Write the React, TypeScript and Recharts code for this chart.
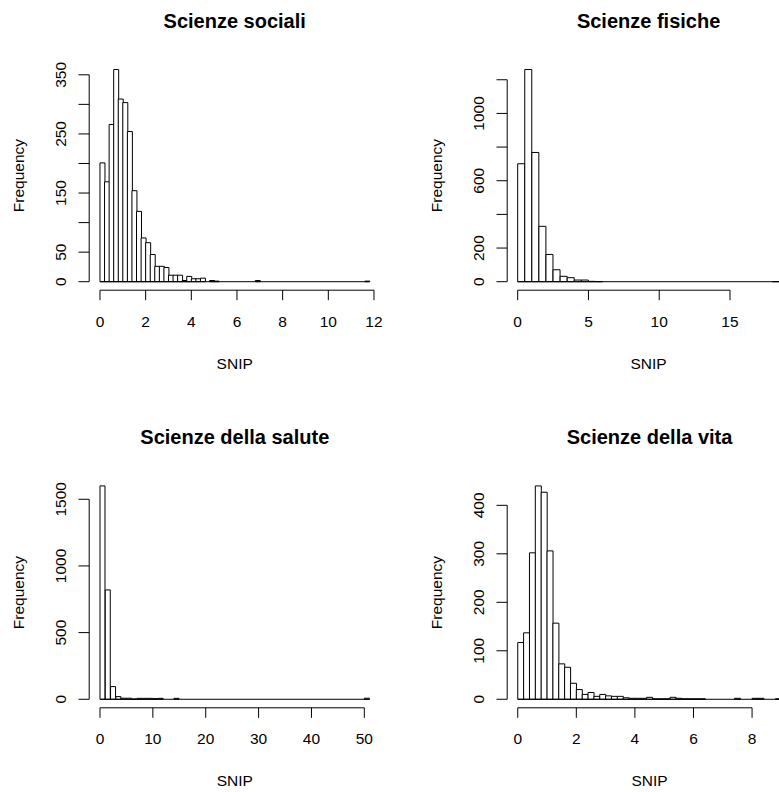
import React from 'react'
import { BarChart, Bar, XAxis, YAxis, ReferenceLine, Label } from 'recharts'

// counts per bin
const socialiCounts = [
  201, 169, 266, 359, 309, 303, 254, 154, 119, 74, 66, 46, 26, 26, 24, 11, 11, 11, 2, 9,
  5, 5, 6, 0, 2, 1, 0, 0, 0, 0, 0, 0, 0, 0, 2, 0, 0, 0, 0, 0,
  0, 0, 0, 0, 0, 0, 0, 0, 0, 0, 0, 0, 0, 0, 0, 0, 0, 0, 1,
]
const fisicheCounts = [
  701, 1261, 768, 329, 162, 71, 32, 24, 10, 10, 2, 1, 0, 0, 0, 0, 0, 0, 0, 0,
  0, 0, 0, 0, 0, 0, 0, 0, 0, 0, 0, 0, 0, 0, 0, 0, 1,
]
const saluteCounts = [
  1600, 820, 95, 20, 8, 8, 2, 7, 7, 7, 5, 7, 0, 0, 7, 0, 0, 0, 0, 0,
  0, 0, 0, 0, 0, 0, 0, 0, 0, 0, 0, 0, 0, 0, 0, 0, 0, 0, 0, 0,
  0, 0, 0, 0, 0, 0, 0, 0, 0, 0, 8,
]
const vitaCounts = [
  117, 137, 302, 440, 427, 306, 157, 73, 66, 33, 20, 10, 14, 6, 10, 7, 6, 6, 3, 2,
  2, 2, 4, 1, 1, 1, 4, 2, 1, 1, 1, 1, 0, 0, 0, 0, 0, 2, 0, 0,
  2, 2, 0, 0, 1,
]

const socialiXTicks = [0, 2, 4, 6, 8, 10, 12]
const fisicheXTicks = [0, 5, 10, 15]
const saluteXTicks = [0, 10, 20, 30, 40, 50]
const vitaXTicks = [0, 2, 4, 6, 8]

const socialiYTicks = [0, 50, 100, 150, 200, 250, 300, 350]
const socialiYLabels = [0, 50, 150, 250, 350]
const fisicheYTicks = [0, 200, 400, 600, 800, 1000, 1200]
const fisicheYLabels = [0, 200, 600, 1000]
const saluteYTicks = [0, 500, 1000, 1500]
const vitaYTicks = [0, 100, 200, 300, 400]

const FONT = '"Liberation Sans", Arial, sans-serif'
const FS = 15.5
const TITLE_FS = 20

function Hist({ title, counts, binWidth, xTicks, yTicks, yLabels, left, top, width, height, plot }) {
  const breaksMax = counts.length * binWidth
  const xMin = -0.04 * breaksMax
  const xMax = 1.04 * breaksMax
  const yMaxCount = Math.max(...counts)
  const yLo = -0.04 * yMaxCount
  const yHi = 1.04 * yMaxCount
  const plotW = plot.right - plot.left
  const padL = ((0 - xMin) / (xMax - xMin)) * plotW
  const padR = ((xMax - breaksMax) / (xMax - xMin)) * plotW
  const data = counts.map((count, i) => ({ bin: i, mid: (i + 0.5) * binWidth, count }))
  const yAxisW = plot.left - left
  const xAxisH = top + height - plot.bottom
  const cx = (plot.left + plot.right) / 2 - left
  const cy = (plot.top + plot.bottom) / 2 - top

  const xTick = (props) => (
    <text x={props.x} y={props.y + 26.5} textAnchor='middle' fontSize={FS} fontFamily={FONT} fill='#000'>
      {props.payload.value}
    </text>
  )
  const yTick = (props) => {
    if (!yLabels.includes(props.payload.value)) return <g />
    const tx = props.x - 12.6
    return (
      <text
        x={tx}
        y={props.y}
        transform={`rotate(-90, ${tx}, ${props.y})`}
        textAnchor='middle'
        fontSize={FS}
        fontFamily={FONT}
        fill='#000'
      >
        {props.payload.value}
      </text>
    )
  }

  return (
    <div style={{ position: 'absolute', left, top, width, height }}>
      <BarChart
        width={width}
        height={height}
        data={data}
        margin={{ top: plot.top - top, right: left + width - plot.right, left: 0, bottom: 0 }}
        barCategoryGap={0}
        barGap={0}
      >
        <XAxis
          xAxisId='cat'
          dataKey='bin'
          type='category'
          hide
          height={0}
          padding={{ left: padL, right: padR }}
        />
        <XAxis
          xAxisId='num'
          dataKey='mid'
          type='number'
          domain={[xMin, xMax]}
          allowDataOverflow
          ticks={xTicks}
          interval={0}
          height={xAxisH}
          axisLine={false}
          tickSize={10}
          tickMargin={0}
          stroke='#000'
          tick={xTick}
        >
          <Label
            content={() => (
              <text x={cx} y={plot.bottom - top + 78.3} textAnchor='middle' fontSize={FS} fontFamily={FONT} fill='#000'>
                SNIP
              </text>
            )}
          />
        </XAxis>
        <YAxis
          type='number'
          domain={[yLo, yHi]}
          allowDataOverflow
          ticks={yTicks}
          interval={0}
          width={yAxisW}
          axisLine={false}
          tickSize={10.7}
          tickMargin={0}
          stroke='#000'
          tick={yTick}
        >
          <Label
            content={() => (
              <text
                x={24.5}
                y={cy}
                transform={`rotate(-90, 24.5, ${cy})`}
                textAnchor='middle'
                fontSize={FS}
                fontFamily={FONT}
                fill='#000'
              >
                Frequency
              </text>
            )}
          />
        </YAxis>
        <ReferenceLine
          xAxisId='num'
          segment={[{ x: 0, y: 0 }, { x: breaksMax, y: 0 }]}
          stroke='#000'
          ifOverflow='visible'
        />
        <ReferenceLine
          xAxisId='num'
          segment={[{ x: xTicks[0], y: yLo }, { x: xTicks[xTicks.length - 1], y: yLo }]}
          stroke='#000'
          ifOverflow='visible'
        />
        <ReferenceLine
          xAxisId='num'
          segment={[{ x: xMin, y: yTicks[0] }, { x: xMin, y: yTicks[yTicks.length - 1] }]}
          stroke='#000'
          ifOverflow='visible'
        />
        <Bar dataKey='count' xAxisId='cat' fill='#fff' stroke='#000' strokeWidth={1} isAnimationActive={false} />
      </BarChart>
      <svg width={width} height={height} style={{ position: 'absolute', left: 0, top: 0, pointerEvents: 'none' }}>
        <text
          x={cx}
          y={plot.top - top - 33}
          textAnchor='middle'
          fontSize={TITLE_FS}
          fontWeight='bold'
          fontFamily={FONT}
          fill='#000'
        >
          {title}
        </text>
      </svg>
    </div>
  )
}

export default function App() {
  return (
    <div
      style={{
        position: 'absolute',
        left: 0,
        top: 0,
        width: 779,
        height: 792,
        overflow: 'hidden',
        background: '#fff',
      }}
    >
      <Hist
        title='Scienze sociali'
        counts={socialiCounts}
        binWidth={0.2}
        xTicks={socialiXTicks}
        yTicks={socialiYTicks}
        yLabels={socialiYLabels}
        left={0}
        top={0}
        width={389}
        height={396}
        plot={{ left: 89.2, right: 380.2, top: 61, bottom: 290.2 }}
      />
      <Hist
        title='Scienze fisiche'
        counts={fisicheCounts}
        binWidth={0.5}
        xTicks={fisicheXTicks}
        yTicks={fisicheYTicks}
        yLabels={fisicheYLabels}
        left={418}
        top={0}
        width={390}
        height={396}
        plot={{ left: 507.2, right: 790, top: 61, bottom: 290.2 }}
      />
      <Hist
        title='Scienze della salute'
        counts={saluteCounts}
        binWidth={1}
        xTicks={saluteXTicks}
        yTicks={saluteYTicks}
        yLabels={saluteYTicks}
        left={0}
        top={396}
        width={389}
        height={396}
        plot={{ left: 89.2, right: 380.4, top: 477.4, bottom: 707.8 }}
      />
      <Hist
        title='Scienze della vita'
        counts={vitaCounts}
        binWidth={0.2}
        xTicks={vitaXTicks}
        yTicks={vitaYTicks}
        yLabels={vitaYTicks}
        left={418}
        top={396}
        width={390}
        height={396}
        plot={{ left: 507.2, right: 791.9, top: 477.4, bottom: 707.8 }}
      />
    </div>
  )
}
